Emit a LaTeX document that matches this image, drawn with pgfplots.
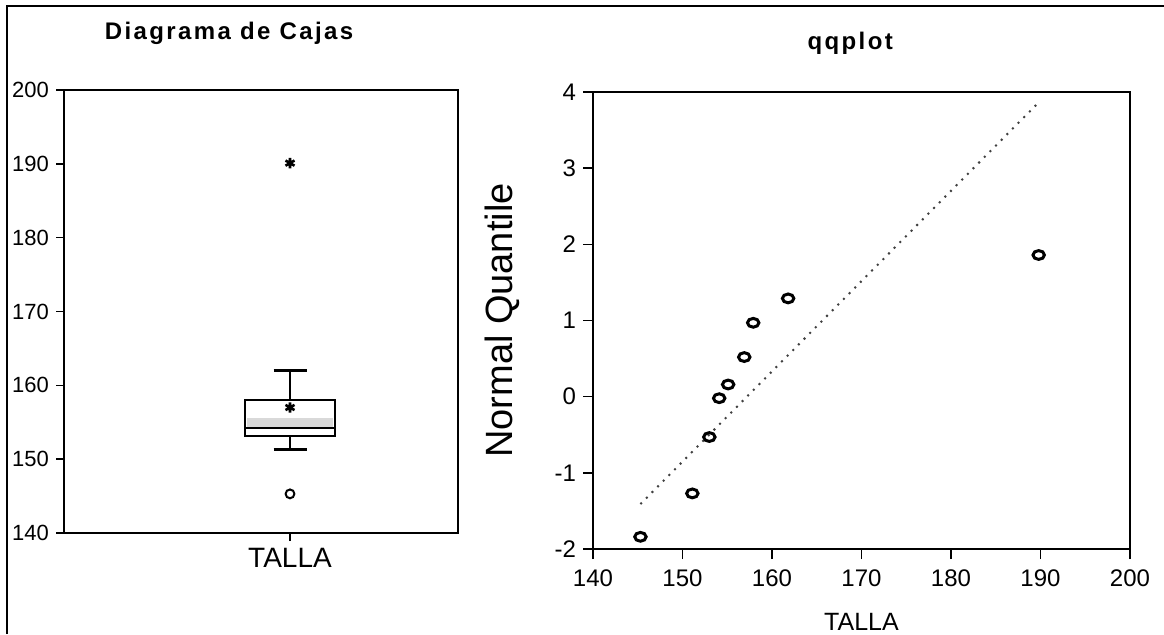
\documentclass[border=0pt]{standalone}
\usepackage{fontspec}
\setmainfont{Liberation Sans}
\newfontfamily\titlefont[LetterSpace=10]{Liberation Sans Bold}
\usepackage{pgfplots}
\pgfplotsset{compat=1.18}
\usepgfplotslibrary{statistics}

\begin{document}
\begin{tikzpicture}
\path[use as bounding box] (0pt,0pt) rectangle (582pt,317pt);
\draw[line width=1pt] (3.5pt,0pt) -- (3.5pt,314pt) -- (582pt,314pt);

% left panel: box plot
\begin{axis}[
  at={(32pt,50.5pt)}, anchor=south west, scale only axis,
  width=197pt, height=221.5pt,
  xmin=0, xmax=394, ymin=140, ymax=200,
  ytick={140,150,...,200}, xtick={226}, xticklabels={TALLA},
  tick align=outside, tick pos=left, major tick length=4pt,
  axis line style={line width=0.9pt}, tick style={line width=0.7pt, black},
  yticklabel style={font=\fontsize{11}{13}\selectfont},
  xticklabel style={font=\fontsize{14}{16}\selectfont},
  /pgf/number format/assume math mode=true,
  clip=false,
  every axis title shift=0pt,
  title={Diagrama de Cajas},
  title style={at={(axis description cs:0.419,1.129)}, anchor=center,
    font=\titlefont\fontsize{12}{14}\selectfont},
]
\addplot[fill=gray!30, draw=none] coordinates {(183,154.4) (269,154.4) (269,155.6) (183,155.6)} -- cycle;
\addplot[black, line width=1.2pt, boxplot prepared={
    lower whisker=151.3, lower quartile=153.1, median=154.2,
    upper quartile=158, upper whisker=162,
    draw position=226, box extend=90, whisker extend=33,
    draw direction=y}] coordinates {};
\addplot[only marks, mark=asterisk, mark size=2.6pt, line width=1.3pt, black] coordinates {(226,190.1) (226,157.0)};
\addplot[only marks, mark=o, mark size=2.2pt, line width=1pt, black] coordinates {(226,145.3)};
\end{axis}

% right panel: qqplot
\begin{axis}[
  at={(296.5pt,42.5pt)}, anchor=south west, scale only axis,
  width=268.5pt, height=228.5pt,
  xmin=140, xmax=200, ymin=-2, ymax=4,
  xtick={140,150,...,200}, ytick={-2,-1,...,4},
  tick align=outside, tick pos=left, major tick length=5pt,
  axis line style={line width=1.3pt}, tick style={line width=0.8pt, black},
  ticklabel style={font=\fontsize{12}{14}\selectfont},
  xticklabel style={yshift=-2pt},
  /pgf/number format/assume math mode=true,
  xlabel={TALLA}, ylabel={Normal Quantile},
  xlabel style={at={(axis description cs:0.5,-0.16)}, anchor=center, font=\fontsize{12.5}{14}\selectfont},
  ylabel style={at={(axis description cs:-0.168,0.5)}, anchor=center, rotate=0, font=\fontsize{19}{22}\selectfont},
  clip=false,
  every axis title shift=0pt,
  title={qqplot},
  title style={at={(axis description cs:0.479,1.107)}, anchor=center,
    font=\titlefont\fontsize{12}{14}\selectfont},
]
\addplot[gray!50!black, line width=1pt, dash pattern=on 1pt off 3pt] coordinates {(145.3,-1.41) (189.6,3.84)};
\addplot[only marks, mark=o, mark size=2.2pt, line width=1.5pt, black, mark options={xscale=1.3}] coordinates {
  (145.3,-1.84) (151.1,-1.27) (153.0,-0.53) (154.1,-0.02) (155.1,0.16)
  (156.9,0.52) (157.9,0.97) (161.8,1.29) (189.8,1.86)
};
\end{axis}
\end{tikzpicture}
\end{document}
